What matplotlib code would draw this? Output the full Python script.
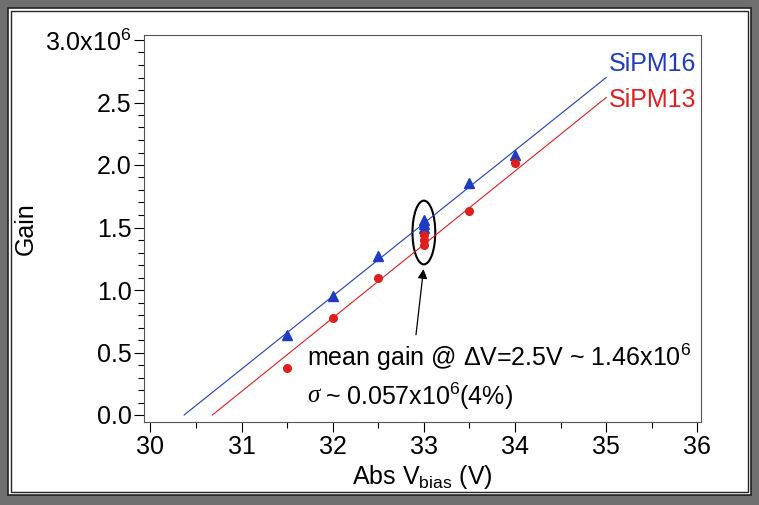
import numpy as np
import matplotlib
matplotlib.use("Agg")
import matplotlib.pyplot as plt
from matplotlib.patches import Ellipse, Rectangle

plt.rcParams['font.family'] = ['Liberation Sans', 'DejaVu Sans']
plt.rcParams['mathtext.fontset'] = 'custom'
plt.rcParams['mathtext.rm'] = 'Liberation Sans'
plt.rcParams['mathtext.it'] = 'Liberation Sans'

# data
v16 = [31.5, 32.0, 32.5, 33.0, 33.0, 33.0, 33.5, 34.0]
gain16 = [0.64, 0.95, 1.27, 1.50, 1.53, 1.56, 1.86, 2.08]
v13 = [31.5, 32.0, 32.5, 33.0, 33.0, 33.0, 33.5, 34.0]
gain13 = [0.38, 0.78, 1.10, 1.36, 1.40, 1.44, 1.63, 2.02]

# fitted lines (end points)
fit16_x = [30.37, 35.0]
fit16_y = [0.0, 2.70]
fit13_x = [30.68, 35.0]
fit13_y = [0.0, 2.54]

blue = "#1f3cc0"
red = "#e01e1e"
fs = 18

fig = plt.figure(figsize=(7.59, 5.05), dpi=100)
fig.patch.set_facecolor("#6f6f6f")

# white panel with double border
fig.patches.append(Rectangle((8/759, 10/505), 743/759, 487/505, transform=fig.transFigure,
                             facecolor="white", edgecolor="#222222", lw=1.2, zorder=-2))
fig.patches.append(Rectangle((11/759, 13/505), 737/759, 481/505, transform=fig.transFigure,
                             facecolor="white", edgecolor="#222222", lw=1.0, zorder=-1))

ax = fig.add_axes([144/759, 1 - 422/505, (701 - 144)/759, (422 - 35)/505])
ax.set_zorder(1)

ax.plot(fit16_x, fit16_y, color=blue, lw=0.8)
ax.plot(fit13_x, fit13_y, color=red, lw=0.8)
ax.plot(v16, gain16, linestyle="none", marker="^", color=blue, markersize=7)
ax.plot(v13, gain13, linestyle="none", marker="o", color=red, markersize=5.5)

ax.set_xlim(29.93, 36.04)
ax.set_ylim(-0.056, 3.04)
ax.set_xticks(np.arange(30, 37, 1))
ax.set_xticks(np.arange(30.5, 36, 1), minor=True)
ax.set_yticks(np.arange(0, 3.01, 0.5))
ax.set_yticks(np.arange(0, 3.01, 0.1), minor=True)
ax.set_yticklabels(["0.0", "0.5", "1.0", "1.5", "2.0", "2.5", "3.0x10$^{6}$"])
ax.tick_params(which="both", direction="out", labelsize=fs, top=False, right=False, pad=2)
ax.tick_params(which="major", length=7, width=0.8)
ax.tick_params(which="minor", length=4, width=0.8)
for s in ax.spines.values():
    s.set_linewidth(0.8)
    s.set_color("#555555")

ax.set_ylabel("Gain", fontsize=fs)
ax.yaxis.set_label_coords(-0.19, 0.5)
ax.set_xlabel("Abs V$_{bias}$ (V)", fontsize=fs, labelpad=3)

ax.text(35.03, 2.81, "SiPM16", color=blue, fontsize=fs, va="center", ha="left")
ax.text(35.03, 2.52, "SiPM13", color=red, fontsize=fs, va="center", ha="left")

ax.add_patch(Ellipse((33.0, 1.46), 0.25, 0.51, fill=False, edgecolor="black", lw=1.5))
ax.annotate("", xy=(33.0, 1.19), xytext=(32.91, 0.62),
            arrowprops=dict(arrowstyle="-|>", color="black", lw=0.9, mutation_scale=14))

ax.text(31.72, 0.46, "mean gain @ \u0394V=2.5V ~ 1.46x10$^{6}$",
        fontsize=fs, va="center", ha="left")
ax.text(31.72, 0.15, "\u03c3", fontsize=fs, va="center", ha="left", family="Liberation Serif",
        style="italic")
ax.text(31.91, 0.15, "~ 0.057x10$^{6}$(4%)", fontsize=fs, va="center", ha="left")

fig.savefig("out.png", dpi=100, facecolor=fig.get_facecolor())
